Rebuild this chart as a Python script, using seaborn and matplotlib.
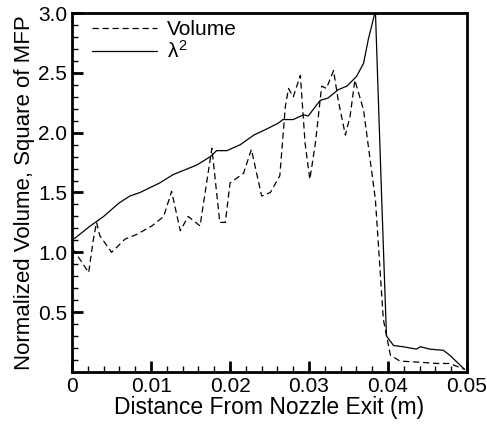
import matplotlib
matplotlib.use("Agg")
import matplotlib.pyplot as plt
import numpy as np
import pandas as pd
import seaborn as sns
from matplotlib.ticker import MultipleLocator, FixedLocator

# lambda^2 (square of mean free path)
lam_x = [0.0, 0.0004, 0.0023, 0.0040, 0.0059, 0.0073, 0.0086, 0.0111, 0.0128,
         0.0158, 0.0175, 0.0183, 0.0196, 0.0213, 0.0230, 0.0246, 0.0261,
         0.0267, 0.0280, 0.0293, 0.0299, 0.0314, 0.0324, 0.0337, 0.0348,
         0.0360, 0.0369, 0.0375, 0.0384, 0.0392, 0.0398, 0.0407, 0.0419,
         0.0436, 0.0441, 0.0453, 0.0470, 0.0478, 0.0497]
lam_y = [1.11, 1.12, 1.22, 1.30, 1.41, 1.47, 1.50, 1.58, 1.65,
         1.73, 1.80, 1.85, 1.85, 1.90, 1.98, 2.03, 2.08,
         2.11, 2.11, 2.15, 2.14, 2.27, 2.29, 2.36, 2.39,
         2.47, 2.58, 2.78, 3.02, 1.44, 0.30, 0.22, 0.21,
         0.19, 0.21, 0.19, 0.18, 0.14, 0.02]

# normalized volume
vol_x = [0.0, 0.0004, 0.0021, 0.0027, 0.0031, 0.0035, 0.0050, 0.0067, 0.0082,
         0.0101, 0.0116, 0.0126, 0.0137, 0.0147, 0.0162, 0.0177, 0.0187,
         0.0194, 0.0200, 0.0217, 0.0227, 0.0240, 0.0251, 0.0263, 0.0270,
         0.0274, 0.0280, 0.0289, 0.0295, 0.0301, 0.0308, 0.0316, 0.0322,
         0.0331, 0.0337, 0.0346, 0.0352, 0.0358, 0.0369, 0.0384, 0.0394,
         0.0403, 0.0415, 0.0441, 0.0462, 0.0478, 0.0497]
vol_y = [1.03, 1.00, 0.83, 1.11, 1.25, 1.14, 1.00, 1.11, 1.15,
         1.22, 1.30, 1.51, 1.18, 1.30, 1.22, 1.87, 1.25,
         1.25, 1.58, 1.66, 1.86, 1.47, 1.50, 1.64, 2.22,
         2.37, 2.30, 2.48, 1.91, 1.61, 1.91, 2.39, 2.37,
         2.52, 2.27, 1.98, 2.14, 2.44, 2.19, 1.44, 0.44,
         0.14, 0.09, 0.08, 0.07, 0.07, 0.02]

x_ticks = [0, 0.01, 0.02, 0.03, 0.04, 0.05]
x_tick_labels = ["0", "0.01", "0.02", "0.03", "0.04", "0.05"]
y_ticks = [0.5, 1.0, 1.5, 2.0, 2.5, 3.0]

frame = pd.concat([
    pd.DataFrame({"x": vol_x, "y": vol_y, "series": "Volume"}),
    pd.DataFrame({"x": lam_x, "y": lam_y, "series": r"$\lambda^2$"}),
], ignore_index=True)

sns.set_style("white")
plt.rcParams["font.family"] = ["Liberation Sans", "DejaVu Sans"]
plt.rcParams["mathtext.fontset"] = "custom"
plt.rcParams["mathtext.rm"] = "Liberation Sans"
plt.rcParams["mathtext.it"] = "Liberation Sans"
plt.rcParams["text.color"] = "black"
plt.rcParams["axes.labelcolor"] = "black"
plt.rcParams["xtick.color"] = "black"
plt.rcParams["ytick.color"] = "black"

figure = plt.figure(figsize=(4.87, 4.24), dpi=100)
axis = figure.add_axes([0.148, 0.123, 0.811, 0.846])

sns.lineplot(data=frame, x="x", y="y", style="series", color="black",
             dashes={"Volume": (5, 3), r"$\lambda^2$": ""},
             linewidth=0.9, sort=False, estimator=None, ax=axis)

axis.set_xlim(0, 0.05)
axis.set_ylim(0, 3.0)
axis.xaxis.set_major_locator(FixedLocator(x_ticks))
axis.set_xticklabels(x_tick_labels)
axis.xaxis.set_minor_locator(MultipleLocator(0.002))
axis.yaxis.set_major_locator(FixedLocator(y_ticks))
axis.yaxis.set_minor_locator(MultipleLocator(0.1))
axis.tick_params(which="both", direction="in", labelsize=15, color="black",
                 labelcolor="black", bottom=True, left=True, top=False, right=False)
axis.tick_params(which="major", length=8, width=2)
axis.tick_params(which="minor", length=4, width=1)
for spine in axis.spines.values():
    spine.set_linewidth(2)
    spine.set_color("black")

axis.set_xlabel("Distance From Nozzle Exit (m)", fontsize=16.5, labelpad=0)
axis.set_ylabel("Normalized Volume, Square of MFP", fontsize=16, labelpad=2)

legend = axis.legend(loc="upper left", frameon=False, fontsize=15,
                     handlelength=3.1, borderaxespad=0.1, labelspacing=0.05,
                     handletextpad=0.5, bbox_to_anchor=(0.025, 1.01))
for handle in legend.get_lines():
    handle.set_linewidth(0.9)

figure.savefig("out.png", dpi=100)
